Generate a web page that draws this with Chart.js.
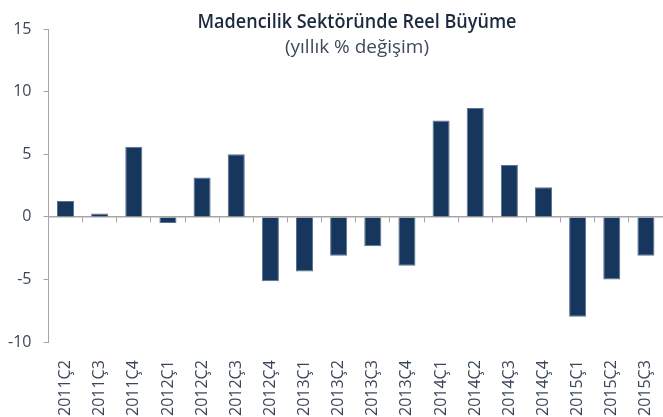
<!DOCTYPE html>
<html>
<head>
<meta charset="utf-8">
<script src="https://cdn.jsdelivr.net/npm/chart.js@4/dist/chart.umd.min.js"></script>
<style>
  html, body { margin: 0; padding: 0; background: #ffffff; }
  #wrap { width: 663px; height: 417px; position: relative; }
</style>
</head>
<body>
<div id="wrap"><canvas id="c" width="663" height="417"></canvas></div>
<script>
const titleText = 'Madencilik Sektöründe Reel Büyüme';
const subtitleText = '(yıllık % değişim)';

const categories = ['2011Ç2', '2011Ç3', '2011Ç4', '2012Ç1', '2012Ç2', '2012Ç3', '2012Ç4',
  '2013Ç1', '2013Ç2', '2013Ç3', '2013Ç4', '2014Ç1', '2014Ç2', '2014Ç3', '2014Ç4',
  '2015Ç1', '2015Ç2', '2015Ç3'];

const growth = [1.27, 0.27, 5.6, -0.48, 3.15, 5.0, -5.13, -4.35, -3.11, -2.34, -3.9,
  7.69, 8.69, 4.14, 2.37, -7.98, -5.0, -3.11];

const yMin = -10;
const yMax = 15;
const yStep = 5;

const axisGrey = '#a6a6a6';
const labelColor = '#3c4859';

const titlePlugin = {
  id: 'customTitle',
  afterDraw(chart) {
    const ctx = chart.ctx;
    const cx = 357;
    function drawFitted(text, font, color, baseline, targetW) {
      ctx.save();
      ctx.font = font;
      ctx.fillStyle = color;
      ctx.textBaseline = 'alphabetic';
      ctx.textAlign = 'center';
      const w = ctx.measureText(text).width;
      ctx.translate(cx, baseline);
      ctx.scale(targetW / w, 1);
      ctx.fillText(text, 0, 0);
      ctx.restore();
    }
    drawFitted(titleText, '600 20px "Open Sans"', '#1c2a3e', 27.5, 319);
    drawFitted(subtitleText, '18px "Open Sans"', '#3e4a5c', 53, 144);
  }
};

new Chart(document.getElementById('c'), {
  type: 'bar',
  data: {
    labels: categories,
    datasets: [{
      data: growth,
      backgroundColor: '#17365d',
      borderColor: '#5a7190',
      borderWidth: 1,
      barPercentage: 0.5,
      categoryPercentage: 1.0
    }]
  },
  options: {
    responsive: false,
    animation: false,
    devicePixelRatio: 1,
    layout: { padding: { top: 29, left: -4, right: -3, bottom: -9 } },
    plugins: { legend: { display: false }, tooltip: { enabled: false }, title: { display: false } },
    scales: {
      x: {
        type: 'category',
        position: 'bottom',
        offset: true,
        grid: { display: false },
        border: { display: false },
        ticks: {
          minRotation: 90, maxRotation: 90, autoSkip: false,
          padding: 10,
          color: labelColor,
          font: { family: 'Open Sans', size: 16 }
        },
        afterFit(scale) { scale.paddingLeft = 0; scale.paddingRight = 0; }
      },
      x2: {
        type: 'category',
        position: { y: 0 },
        offset: true,
        grid: { display: true, offset: true, drawOnChartArea: false, drawTicks: true, tickLength: 5, color: axisGrey, tickColor: axisGrey, lineWidth: 1 },
        border: { display: true, color: axisGrey, width: 1.5 },
        ticks: { display: false },
        afterFit(scale) { scale.paddingLeft = 0; scale.paddingRight = 0; }
      },
      y: {
        min: yMin,
        max: yMax,
        grid: { display: true, drawOnChartArea: false, drawTicks: true, tickLength: 5, tickColor: axisGrey, color: axisGrey },
        border: { display: true, color: axisGrey, width: 1 },
        ticks: {
          stepSize: yStep,
          padding: 12,
          color: labelColor,
          font: { family: 'Open Sans', size: 16 }
        }
      }
    }
  },
  plugins: [titlePlugin]
});
</script>
</body>
</html>
